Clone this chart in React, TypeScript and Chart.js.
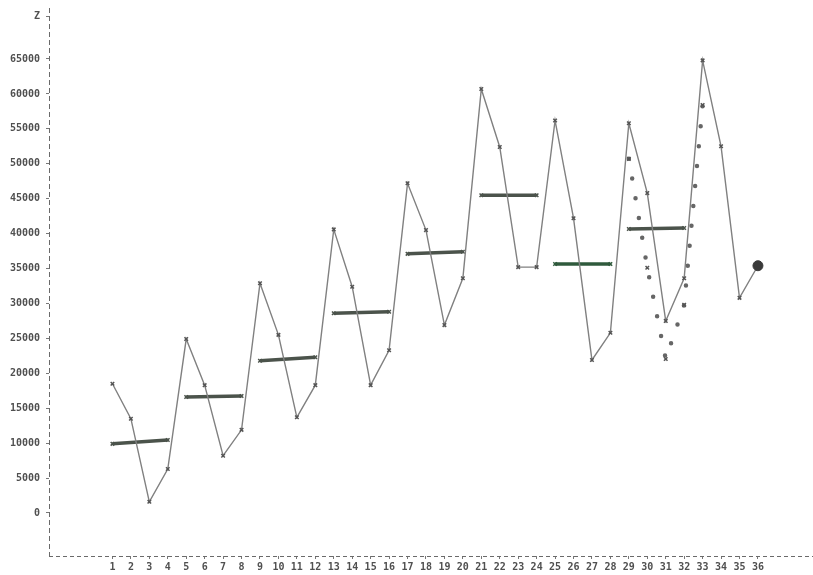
import React, { useEffect, useRef } from 'react';
import { Chart, registerables } from 'chart.js';

Chart.register(...registerables);

// Period numbers along the x axis
const periods = Array.from({ length: 36 }, (_, i) => i + 1);
const xTickLabels = periods.map((p) => String(p));

// Main observed series
const observed = [
  18500, 13500, 1600, 6300, 24900, 18300, 8200, 11900, 32900, 25500, 13700, 18300,
  40600, 32400, 18300, 23300, 47200, 40500, 26900, 33600, 60700, 52400, 35200, 35200,
  56200, 42200, 21900, 25800, 55800, 45800, 27500, 33600, 64800, 52500, 30800, 35400,
];

// Yearly average segments (start period, end period, start value, end value)
const avgStartPeriod = [1, 5, 9, 13, 17, 21, 25, 29];
const avgEndPeriod = [4, 8, 12, 16, 20, 24, 28, 32];
const avgStartValue = [9900, 16600, 21800, 28600, 37100, 45500, 35650, 40650];
const avgEndValue = [10450, 16750, 22300, 28800, 37400, 45500, 35650, 40800];

// Dotted alternative series
const dottedPeriods = [29, 30, 31, 32, 33];
const dottedValues = [50700, 35100, 22050, 29800, 58400];

// Y tick values and labels
const yTickValues = [0, 5000, 10000, 15000, 20000, 25000, 30000, 35000, 40000, 45000, 50000, 55000, 60000, 65000, 71150];
const yTickLabels = ['0', '5000', '10000', '15000', '20000', '25000', '30000', '35000', '40000', '45000', '50000', '55000', '60000', '65000', 'Z'];

const dashedAxes = {
  id: 'dashedAxes',
  beforeDatasetsDraw(chart: any) {
    const { ctx, chartArea } = chart;
    ctx.save();
    ctx.strokeStyle = '#6a6a6a';
    ctx.lineWidth = 1;
    ctx.setLineDash([5, 3]);
    ctx.beginPath();
    ctx.moveTo(chartArea.left + 0.5, chartArea.top);
    ctx.lineTo(chartArea.left + 0.5, chartArea.bottom);
    ctx.stroke();
    ctx.setLineDash([4, 3]);
    ctx.beginPath();
    ctx.moveTo(chartArea.left, chartArea.bottom + 0.5);
    ctx.lineTo(chart.width, chartArea.bottom + 0.5);
    ctx.stroke();
    ctx.restore();
  },
};

export default function App() {
  const ref = useRef<HTMLCanvasElement | null>(null);

  useEffect(() => {
    if (!ref.current) return;
    const tickFont = { family: 'DejaVu Sans Mono', size: 10, weight: 'bold' as const };
    const avgColors = ['#4b534b', '#4b534b', '#4b534b', '#4b534b', '#4b534b', '#4b534b', '#2f5a3c', '#4b534b'];

    const avgDatasets = avgStartPeriod.map((s, i) => ({
      type: 'line' as const,
      data: [
        { x: s, y: avgStartValue[i] },
        { x: avgEndPeriod[i], y: avgEndValue[i] },
      ],
      borderColor: avgColors[i],
      backgroundColor: avgColors[i],
      borderWidth: 3.5,
      pointRadius: 2.5,
      pointStyle: 'crossRot' as const,
      pointBorderWidth: 1.5,
      tension: 0,
      order: 2,
    }));

    const chart = new Chart(ref.current, {
      type: 'line',
      data: {
        datasets: [
          {
            data: periods.map((p, i) => ({ x: p, y: observed[i] })),
            borderColor: '#808080',
            backgroundColor: '#4a4a4a',
            borderWidth: 1.4,
            pointStyle: 'crossRot',
            pointRadius: periods.map((_, i) => (i === periods.length - 1 ? 0 : 2.5)),
            pointBorderColor: '#555',
            pointBorderWidth: 1.5,
            tension: 0,
            order: 1,
          },
          {
            data: [{ x: periods[periods.length - 1], y: observed[observed.length - 1] }],
            showLine: false,
            pointStyle: 'circle',
            pointRadius: 5,
            backgroundColor: '#3a3a3a',
            borderColor: '#3a3a3a',
            order: 0,
          },
          {
            data: dottedPeriods.map((p, i) => ({ x: p, y: dottedValues[i] })),
            borderColor: '#666',
            backgroundColor: '#666',
            borderWidth: 4.5,
            borderDash: [0, 20],
            borderCapStyle: 'round',
            pointStyle: 'crossRot',
            pointRadius: 2.5,
            pointBorderColor: '#555',
            pointBorderWidth: 1.5,
            tension: 0,
            order: 3,
          },
          ...avgDatasets,
        ],
      },
      options: {
        animation: false,
        responsive: false,
        layout: { padding: { top: 8, right: 0, left: 0, bottom: 0 } },
        plugins: { legend: { display: false }, tooltip: { enabled: false } },
        scales: {
          x: {
            type: 'linear',
            min: -2.44,
            max: 38.66,
            afterBuildTicks: (scale: any) => {
              scale.ticks = periods.map((p) => ({ value: p }));
            },
            afterFit: (scale: any) => {
              scale.height = 19;
              scale.paddingLeft = 0;
              scale.paddingRight = 0;
            },
            ticks: {
              autoSkip: false,
              maxRotation: 0,
              minRotation: 0,
              padding: 2,
              color: '#505050',
              font: tickFont,
              callback: (_v: any, i: number) => xTickLabels[i],
            },
            grid: { display: true, drawOnChartArea: false, drawTicks: true, tickLength: 3, color: '#777' },
            border: { display: false },
          },
          y: {
            type: 'linear',
            min: -6160,
            max: 72300,
            afterBuildTicks: (scale: any) => {
              scale.ticks = yTickValues.map((v) => ({ value: v }));
            },
            afterFit: (scale: any) => {
              scale.width = 49;
              scale.paddingTop = 0;
              scale.paddingBottom = 0;
            },
            ticks: {
              autoSkip: false,
              padding: 6,
              color: '#505050',
              font: tickFont,
              callback: (_v: any, i: number) => yTickLabels[i],
            },
            grid: { display: true, drawOnChartArea: false, drawTicks: true, tickLength: 3, color: '#777' },
            border: { display: false },
          },
        },
      },
      plugins: [dashedAxes],
    } as any);

    return () => chart.destroy();
  }, []);

  return (
    <div style={{ position: 'absolute', left: 0, top: 0, width: 813, height: 575, background: '#fff' }}>
      <canvas ref={ref} width={813} height={575} style={{ display: 'block' }} />
    </div>
  );
}
